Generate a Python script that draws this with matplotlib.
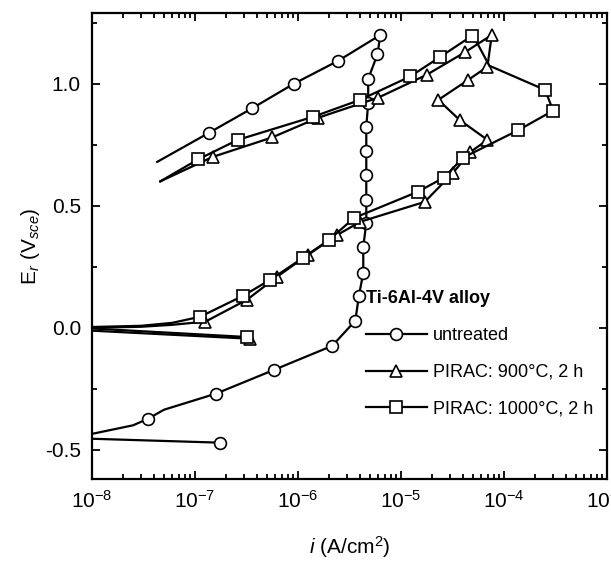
import numpy as np
import matplotlib
matplotlib.use("Agg")
import matplotlib.pyplot as plt
from matplotlib.ticker import AutoMinorLocator, LogLocator, NullFormatter

plt.rcParams['font.family'] = ['Liberation Sans', 'DejaVu Sans']
plt.rcParams['mathtext.fontset'] = 'custom'
plt.rcParams['mathtext.rm'] = 'Liberation Sans'
plt.rcParams['mathtext.it'] = 'Liberation Sans:italic'
plt.rcParams['axes.unicode_minus'] = False

# ---- untreated (circles) ----
unt_cat_i = [1.0e-8, 1.74e-7]
unt_cat_E = [-0.455, -0.471]
unt_cat_marks = [1]

unt_i = [1.0e-8, 2.5e-8, 3.5e-8, 5.0e-8, 1.6e-7, 5.9e-7, 2.15e-6, 3.6e-6, 3.9e-6,
         4.3e-6, 4.3e-6, 4.6e-6, 4.6e-6, 4.6e-6, 4.6e-6, 4.6e-6, 4.8e-6, 4.8e-6,
         5.9e-6, 6.3e-6,
         2.45e-6, 9.1e-7, 3.6e-7, 1.38e-7, 4.3e-8]
unt_E = [-0.435, -0.40, -0.373, -0.336, -0.27, -0.172, -0.074, 0.029, 0.131,
         0.225, 0.332, 0.430, 0.525, 0.627, 0.725, 0.824, 0.922, 1.02,
         1.12, 1.20,
         1.094, 1.0, 0.90, 0.80, 0.68]
unt_marks = [2, 4, 5, 6, 7, 8, 9, 10, 11, 12, 13, 14, 15, 16, 17, 18, 19, 20, 21, 22, 23]

# ---- PIRAC 900C, 2 h (triangles) ----
p9_cat_i = [1.0e-8, 3.4e-7]
p9_cat_E = [-0.012, -0.045]
p9_cat_marks = [1]

p9_i = [1.0e-8, 3.0e-8, 6.0e-8, 1.26e-7, 3.2e-7, 6.3e-7, 1.26e-6, 2.4e-6, 4.0e-6,
        1.7e-5, 3.2e-5, 4.7e-5, 6.9e-5, 3.7e-5, 2.3e-5, 4.5e-5, 6.9e-5, 7.6e-5,
        4.2e-5, 1.78e-5, 6.0e-6, 1.55e-6, 5.6e-7, 1.48e-7, 4.6e-8]
p9_E = [0.0, 0.004, 0.012, 0.025, 0.115, 0.21, 0.30, 0.38, 0.434,
        0.516, 0.635, 0.72, 0.77, 0.852, 0.934, 1.016, 1.07, 1.20,
        1.13, 1.037, 0.943, 0.86, 0.78, 0.70, 0.60]
p9_marks = [3, 4, 5, 6, 7, 8, 9, 10, 11, 12, 13, 14, 15, 16, 17, 18, 19, 20, 21, 22, 23]

# ---- PIRAC 1000C, 2 h (squares) ----
p10_cat_i = [1.0e-8, 3.2e-7]
p10_cat_E = [-0.003, -0.038]
p10_cat_marks = [1]

p10_i = [1.0e-8, 3.0e-8, 6.0e-8, 1.12e-7, 2.9e-7, 5.4e-7, 1.12e-6, 2.0e-6, 3.5e-6,
         1.45e-5, 2.6e-5, 4.0e-5, 1.38e-4, 3.0e-4, 2.5e-4, 7.2e-5, 5.6e-5, 4.9e-5,
         2.4e-5, 1.23e-5, 4.0e-6, 1.41e-6, 2.6e-7, 1.07e-7, 4.6e-8]
p10_E = [0.003, 0.008, 0.02, 0.045, 0.13, 0.197, 0.287, 0.36, 0.45,
         0.557, 0.615, 0.697, 0.81, 0.89, 0.975, 1.074, 1.16, 1.197,
         1.11, 1.03, 0.934, 0.865, 0.77, 0.69, 0.60]
p10_marks = [3, 4, 5, 6, 7, 8, 9, 10, 11, 12, 13, 14, 17, 18, 19, 20, 21, 22, 23]

labels = ['untreated', 'PIRAC: 900°C, 2 h', 'PIRAC: 1000°C, 2 h']

fig = plt.figure(figsize=(6.11, 5.66), dpi=100)
ax = fig.add_axes([0.1506, 0.1537, 0.8429, 0.8233])

style = dict(color='black', lw=1.6, mfc='white', mec='black', mew=1.2, ms=8.5)

ax.plot(unt_cat_i, unt_cat_E, marker='o', markevery=unt_cat_marks, **style)
l1, = ax.plot(unt_i, unt_E, marker='o', markevery=unt_marks, **style)
ax.plot(p9_cat_i, p9_cat_E, marker='^', markevery=p9_cat_marks, **style)
l2, = ax.plot(p9_i, p9_E, marker='^', markevery=p9_marks, **style)
ax.plot(p10_cat_i, p10_cat_E, marker='s', markevery=p10_cat_marks, **style)
l3, = ax.plot(p10_i, p10_E, marker='s', markevery=p10_marks, **style)

ax.set_xscale('log')
ax.set_xlim(1e-8, 1e-3)
ax.set_ylim(-0.62, 1.29)
ax.set_yticks([-0.5, 0.0, 0.5, 1.0])
ax.yaxis.set_minor_locator(AutoMinorLocator(2))
ax.xaxis.set_major_locator(LogLocator(base=10, numticks=10))
ax.xaxis.set_minor_locator(LogLocator(base=10, subs=np.arange(2, 10), numticks=10))
ax.xaxis.set_minor_formatter(NullFormatter())

ax.tick_params(which='both', direction='in', top=True, right=True, width=1.3, labelsize=15)
ax.tick_params(which='major', length=6, pad=8)
ax.tick_params(which='minor', length=3.5)
for s in ax.spines.values():
    s.set_linewidth(1.6)

ax.set_xlabel('$i$ (A/cm$^2$)', fontsize=15, labelpad=16)
ax.set_ylabel('E$_r$ (V$_{sce}$)', fontsize=15, labelpad=2)

leg = ax.legend([l1, l2, l3], labels, loc='upper left', bbox_to_anchor=(0.5, 0.44),
                frameon=False, numpoints=1, handlelength=3.4, handletextpad=0.3,
                labelspacing=1.1, fontsize=13, title='Ti-6Al-4V alloy',
                title_fontproperties={'weight': 'bold', 'size': 13})
leg._legend_box.align = 'left'

fig.savefig('out.png', dpi=100)
